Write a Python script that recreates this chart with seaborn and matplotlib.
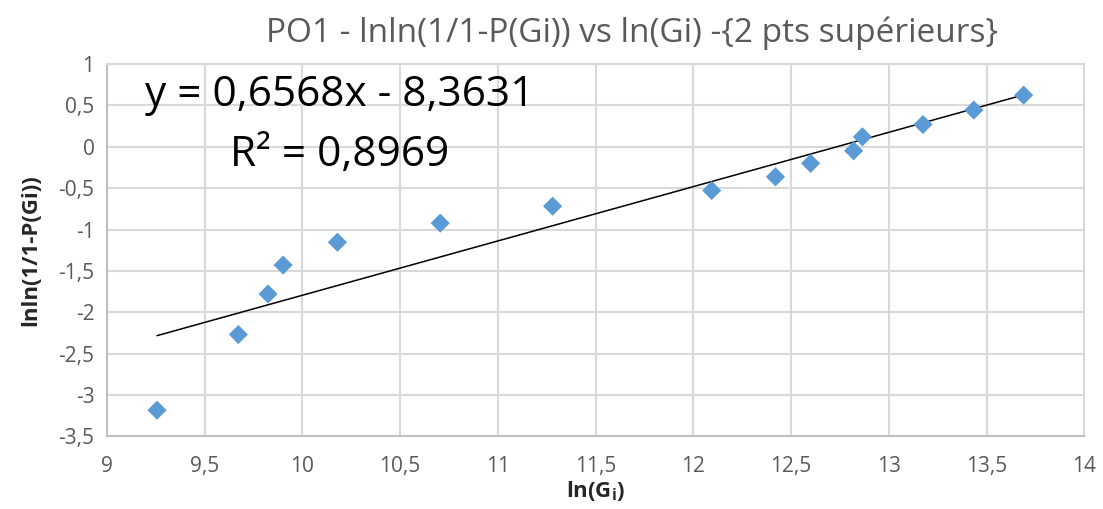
import numpy as np
import pandas as pd
import seaborn as sns
import matplotlib.pyplot as plt

# données
ln_g = [9.256, 9.672, 9.824, 9.901, 10.179, 10.705, 11.28,
        12.094, 12.42, 12.60, 12.82, 12.865, 13.175, 13.435, 13.69]
lnln_p = [-3.185, -2.27, -1.78, -1.43, -1.154, -0.923, -0.718,
          -0.528, -0.363, -0.20, -0.048, 0.121, 0.27, 0.444, 0.625]
# courbe de tendance (Excel)
pente = 0.6568
ordonnee = -8.3631
r2 = 0.8969

x_ticks = [9, 9.5, 10, 10.5, 11, 11.5, 12, 12.5, 13, 13.5, 14]
y_ticks = [1, 0.5, 0, -0.5, -1, -1.5, -2, -2.5, -3, -3.5]

df = pd.DataFrame({'lnG': ln_g, 'lnlnP': lnln_p})

sns.set_style('white')
plt.rcParams['font.family'] = ['Open Sans', 'DejaVu Sans']

fig = plt.figure(figsize=(11.03, 5.09), dpi=100)
ax = fig.add_axes([0.097, 0.143, 0.886, 0.731])

# droite de régression entre le premier et le dernier point
xt = np.array([min(ln_g), max(ln_g)])
ax.plot(xt, pente * xt + ordonnee, color='black', lw=1.1, zorder=2)

sns.scatterplot(data=df, x='lnG', y='lnlnP', marker='D', s=95, color='#5B9BD5',
                edgecolor='none', ax=ax, zorder=3)

ax.set_xlim(9, 14)
ax.set_ylim(-3.5, 1)
ax.set_xticks(x_ticks)
ax.set_yticks(y_ticks)
fmt = lambda v: ('%g' % v).replace('.', ',')
ax.set_xticklabels([fmt(v) for v in x_ticks])
ax.set_yticklabels([fmt(v) for v in y_ticks])
ax.tick_params(axis='both', labelsize=15, labelcolor='#595959', length=0)
ax.tick_params(axis='x', pad=14)
ax.tick_params(axis='y', pad=9)
ax.grid(True, color='#d9d9d9', lw=1.5, zorder=0)
ax.set_axisbelow(True)
for sp in ax.spines.values():
    sp.set_color('#d9d9d9')
    sp.set_linewidth(1.5)
ax.spines['left'].set_color('#bfbfbf')
ax.spines['bottom'].set_color('#bfbfbf')

ax.set_xlabel('ln(G$_\\mathregular{i}$)', fontsize=16, fontweight='bold', labelpad=2)
ax.set_ylabel('lnln(1/1-P(Gi))', fontsize=16, fontweight='bold', labelpad=12)

fig.text(0.573, 0.917, 'PO1 - lnln(1/1-P(Gi)) vs ln(Gi) -{2 pts supérieurs}',
         ha='center', va='baseline', fontsize=24, color='#595959')

eq = 'y = %s' % fmt(pente) + 'x - %s' % fmt(-ordonnee)
ax.text(9.195, 0.49, eq, fontsize=30.5, color='black', ha='left', va='baseline')
ax.text(9.63, -0.23, 'R² = %s' % fmt(r2), fontsize=30.5, color='black', ha='left', va='baseline')

fig.savefig('out.png', dpi=100, facecolor='white')
